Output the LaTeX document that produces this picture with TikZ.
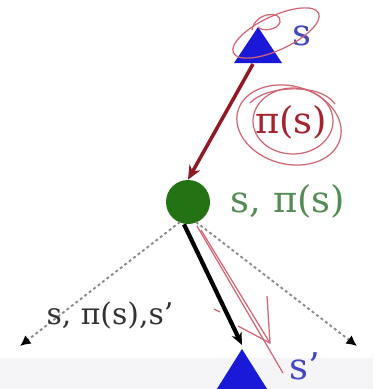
\documentclass[tikz,border=0pt]{standalone}
\usepackage{fontspec}
\setmainfont{DejaVu Serif}
\usetikzlibrary{arrows.meta}
\definecolor{triblue}{RGB}{25,25,215}
\definecolor{lblblue}{RGB}{70,70,190}
\definecolor{dgreen}{RGB}{35,115,20}
\definecolor{lgreen}{RGB}{85,140,85}
\definecolor{dred}{RGB}{145,25,35}
\definecolor{pired}{RGB}{165,35,45}
\definecolor{pen}{RGB}{210,100,115}
\definecolor{band}{RGB}{245,245,248}
\tikzset{
  lbl/.style={inner sep=0pt, font=\fontsize{21}{24}\selectfont},
  lblsm/.style={inner sep=0pt, font=\fontsize{17}{20}\selectfont},
  scrib/.style={draw=pen, line width=0.7pt},
  dashln/.style={draw=black!45, line width=1.1pt, dash pattern=on 1.6pt off 1.6pt, -{Latex[length=6pt,width=6pt,black]}},
}
\begin{document}
\begin{tikzpicture}[x=0.02cm,y=-0.02cm]
\useasboundingbox (0,0) rectangle (373,389);
\fill[band] (0,358) rectangle (373,389);
% top triangle
\coordinate (tA) at (258,27);
\fill[triblue] (258,27) -- (282,63) -- (234,63) -- cycle;
\node[lbl, text=lblblue] (ls) at (302,36) {s};
% circle
\node[circle, fill=dgreen, minimum size=44*0.02cm, inner sep=0pt] (c) at (188,202) {};
\node[lbl, text=lgreen] (lc) at (288,201) {s, π(s)};
% red arrow
\draw[dred, line width=2pt, -{Stealth[length=8pt,width=7pt]}] (253,64) -- (c.north);
\node[lbl, text=pired] (lp) at (291,122) {π(s)};
% bottom triangle
\coordinate (bA) at (242,349);
\fill[triblue] (242,349) -- (269,392) -- (215,392) -- cycle;
\node[lbl, text=lblblue] (ls2) at (305,366) {s’};
% black arrow
\draw[black, line width=2.4pt, -{Stealth[length=7pt,width=6pt]}] (c.south) ++(-4,0) coordinate (cs) -- (242,345) coordinate (bt);
% dashed
\coordinate (dl) at (20,346);
\coordinate (dr) at (357,346);
\draw[dashln] (180,222) -- (dl);
\draw[dashln] (196,222) -- (dr);
\node[lblsm, text=black!80] (l3) at (110,315) {s, π(s),s’};
% scribbles
\draw[scrib, rotate around={25:(276,33)}] (276,33) ellipse (47 and 17);
\draw[scrib] (252,30) .. controls (255,12) and (282,10) .. (280,22) .. controls (278,30) and (262,32) .. (258,27);
\draw[scrib, rotate around={-15:(289,125)}] (289,125) ellipse (53 and 39);
\draw[scrib] (293,121) ellipse (40 and 33);
\draw[scrib] (250,103) .. controls (265,86) and (320,82) .. (335,104);
\draw[scrib] (197,226) -- (283,373);
\draw[scrib] (201,230) -- (270,343);
\draw[scrib] (267,296) -- (270,343) -- (238,326);
\draw[scrib] (214,309) -- (220,312);
\end{tikzpicture}
\end{document}
